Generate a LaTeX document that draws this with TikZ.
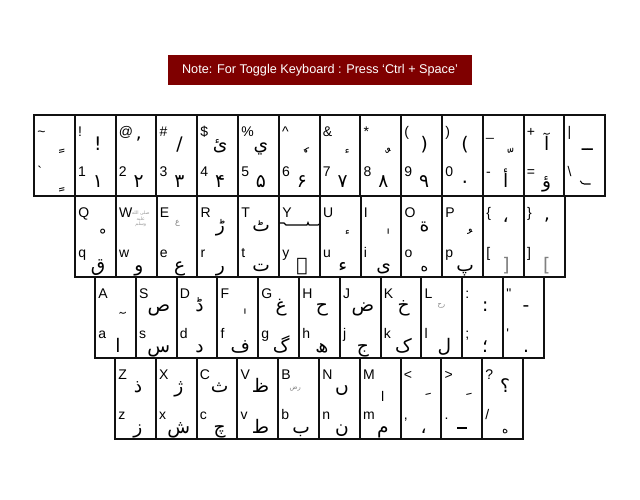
\documentclass[tikz,border=0pt]{standalone}
\usepackage{fontspec}
\setmainfont{Liberation Sans}
\newfontfamily\urdufont[Script=Arabic]{DejaVu Sans}
\TeXXeTstate=1
\usepackage{xcolor}
\usetikzlibrary{positioning}
\definecolor{notered}{HTML}{7F0000}
\definecolor{keyline}{HTML}{111111}
% lone marks above a letter sit high: pull them down into the key
\newcommand{\mk}[1]{\raisebox{-0.8em}{#1}}
\tikzset{
  keycap/.style={
    draw=keyline,
    line width=1.5pt,
    fill=white,
    minimum width=30.6pt,
    minimum height=60.75pt,
    anchor=north west,
    inner sep=0pt,
    outer sep=0pt
  },
  keylatin/.style={
    anchor=base west,
    inner sep=0pt,
    font=\fontsize{10.5}{12}\selectfont
  },
  keyurdu/.style={
    anchor=base,
    inner sep=0pt,
    font=\urdufont\fontsize{14}{16}\selectfont
  },
  keysign/.style={
    inner sep=0pt,
    text=gray,
    align=center,
    font=\urdufont\fontsize{5}{5.6}\selectfont
  },
  keystroke/.style={line width=0.8pt, line cap=round},
  note banner/.style={
    fill=notered,
    text=white,
    minimum width=228pt,
    minimum height=22.5pt,
    inner sep=0pt,
    font=\fontsize{9.5}{11}\selectfont
  }
}

\begin{document}
\begin{tikzpicture}[x=0.75pt, y=-0.75pt]

  \useasboundingbox (0,0) rectangle (640,500);

  % Note
  \node[note banner] (note) at (320,70) {Note: For Toggle Keyboard : Press ‘Ctrl + Space’};

  % Number row
  \foreach \upL/\loL/\upU/\loU [count=\i from 0] in {
    {\textasciitilde}/{\textasciigrave}/{\mk{ً}}/{ٍ},
    {!}/{1}/{!}/{۱},
    {@}/{2}/{٬}/{۲},
    {\#}/{3}/{/}/{۳},
    {\$}/{4}/{ئ}/{۴},
    {\%}/{5}/{ي}/{۵},
    {\textasciicircum}/{6}/{\mk{ٗ}}/{۶},
    {\&}/{7}/{\mk{ٔ}}/{۷},
    {*}/{8}/{\mk{ٌ}}/{۸},
    {(}/{9}/{(}/{۹},
    {)}/{0}/{)}/{۰},
    {\_}/{-}/{\mk{ّ}}/{أ},
    {+}/{=}/{آ}/{ؤ},
    {|}/{\textbackslash}/{ــ}/{}
  }{
    \node[keycap] (num\i) at (34+40.8*\i,115) {};
    \node[keylatin] (num\i-sl) at ([shift={(3,21)}]num\i.north west) {\upL};
    \node[keylatin] (num\i-ll) at ([shift={(3,61)}]num\i.north west) {\loL};
    \node[keyurdu] (num\i-su) at ([shift={(23,35)}]num\i.north west) {\upU};
    \node[keyurdu] (num\i-lu) at ([shift={(23,72)}]num\i.north west) {\loU};
  }
  % sign under the backslash
  \draw[keystroke] ([shift={(16,66)}]num13.north west)
    .. controls +(1,2) and +(-2,0) .. ++(4,3) -- ++(6,0);

  % Q row
  \foreach \upL/\loL/\upU/\loU [count=\i from 0] in {
    {Q}/{q}/{\mk{ْ}}/{ق},
    {W}/{w}/{}/{و},
    {E}/{e}/{}/{ع},
    {R}/{r}/{ڑ}/{ر},
    {T}/{t}/{ٹ}/{ت},
    {Y}/{y}/{}/{ے},
    {U}/{u}/{\mk{ٔ}}/{ء},
    {I}/{i}/{\mk{ٰ}}/{ی},
    {O}/{o}/{ة}/{\fontsize{11}{12}\selectfont ه},
    {P}/{p}/{\mk{ُ}}/{پ},
    {\{}/{[}/{‘}/{\textcolor{gray}{[}},
    {\}}/{]}/{’}/{\textcolor{gray}{]}}
  }{
    \node[keycap] (qw\i) at (75+40.8*\i,196) {};
    \node[keylatin] (qw\i-sl) at ([shift={(3,21)}]qw\i.north west) {\upL};
    \node[keylatin] (qw\i-ll) at ([shift={(3,61)}]qw\i.north west) {\loL};
    \node[keyurdu] (qw\i-su) at ([shift={(23,35)}]qw\i.north west) {\upU};
    \node[keyurdu] (qw\i-lu) at ([shift={(23,75)}]qw\i.north west) {\loU};
  }
  % small signs on W, E and Y
  \node[keysign, text=gray!80, font=\urdufont\fontsize{3.5}{4}\selectfont] (qw1-sign) at ([shift={(25,23)}]qw1.north west)
    {\beginR صلى الله\endR\\\beginR عليه\endR\\\beginR وسلم\endR};
  \node[keysign, font=\urdufont\fontsize{6}{7}\selectfont] (qw2-sign) at ([shift={(21,27)}]qw2.north west) {ع};
  \draw[keystroke] ([shift={(1,27)}]qw5.north west) -- ++(4,0) -- ++(2,2) -- ++(21,0)
    -- ++(1,-2.5) -- ++(1,2.5) -- ++(9,0) -- ++(1,-1);

  % A row
  \foreach \upL/\loL/\upU/\loU [count=\i from 0] in {
    {A}/{a}/{\mk{ٓ}}/{ا},
    {S}/{s}/{ص}/{س},
    {D}/{d}/{ڈ}/{د},
    {F}/{f}/{\mk{ٰ}}/{ف},
    {G}/{g}/{غ}/{گ},
    {H}/{h}/{ح}/{ھ},
    {J}/{j}/{ض}/{ج},
    {K}/{k}/{خ}/{ک},
    {L}/{l}/{}/{ل},
    {:}/{;}/{:}/{؛},
    {\textquotedbl}/{\textquotesingle}/{-}/{.}
  }{
    \node[keycap] (as\i) at (95+40.8*\i,277) {};
    \node[keylatin] (as\i-sl) at ([shift={(3,21)}]as\i.north west) {\upL};
    \node[keylatin] (as\i-ll) at ([shift={(3,61)}]as\i.north west) {\loL};
    \node[keyurdu] (as\i-su) at ([shift={(23,34)}]as\i.north west) {\upU};
    \node[keyurdu] (as\i-lu) at ([shift={(23,75)}]as\i.north west) {\loU};
  }
  \node[keysign] (as8-sign) at ([shift={(20,29)}]as8.north west) {\beginR رح\endR};

  % Z row
  \foreach \upL/\loL/\upU/\loU [count=\i from 0] in {
    {Z}/{z}/{ذ}/{ز},
    {X}/{x}/{ژ}/{ش},
    {C}/{c}/{ث}/{چ},
    {V}/{v}/{ظ}/{ط},
    {B}/{b}/{}/{ب},
    {N}/{n}/{ں}/{ن},
    {M}/{m}/{\raisebox{-7pt}{\fontsize{10}{12}\selectfont ا}}/{م},
    {<}/{,}/{\mk{َ}}/{،},
    {>}/{.}/{\mk{َ}}/{},
    {?}/{/}/{؟}/{\fontsize{9}{10}\selectfont ه}
  }{
    \node[keycap] (zx\i) at (115+40.8*\i,358) {};
    \node[keylatin] (zx\i-sl) at ([shift={(3,21)}]zx\i.north west) {\upL};
    \node[keylatin] (zx\i-ll) at ([shift={(3,61)}]zx\i.north west) {\loL};
    \node[keyurdu] (zx\i-su) at ([shift={(23,34)}]zx\i.north west) {\upU};
    \node[keyurdu] (zx\i-lu) at ([shift={(23,75)}]zx\i.north west) {\loU};
  }
  \node[keysign] (zx4-sign) at ([shift={(17,31)}]zx4.north west) {\beginR رض\endR};
  % Urdu full stop
  \draw[line width=1.5pt] ([shift={(16,70)}]zx8.north west) -- ++(10,0);

\end{tikzpicture}
\end{document}
